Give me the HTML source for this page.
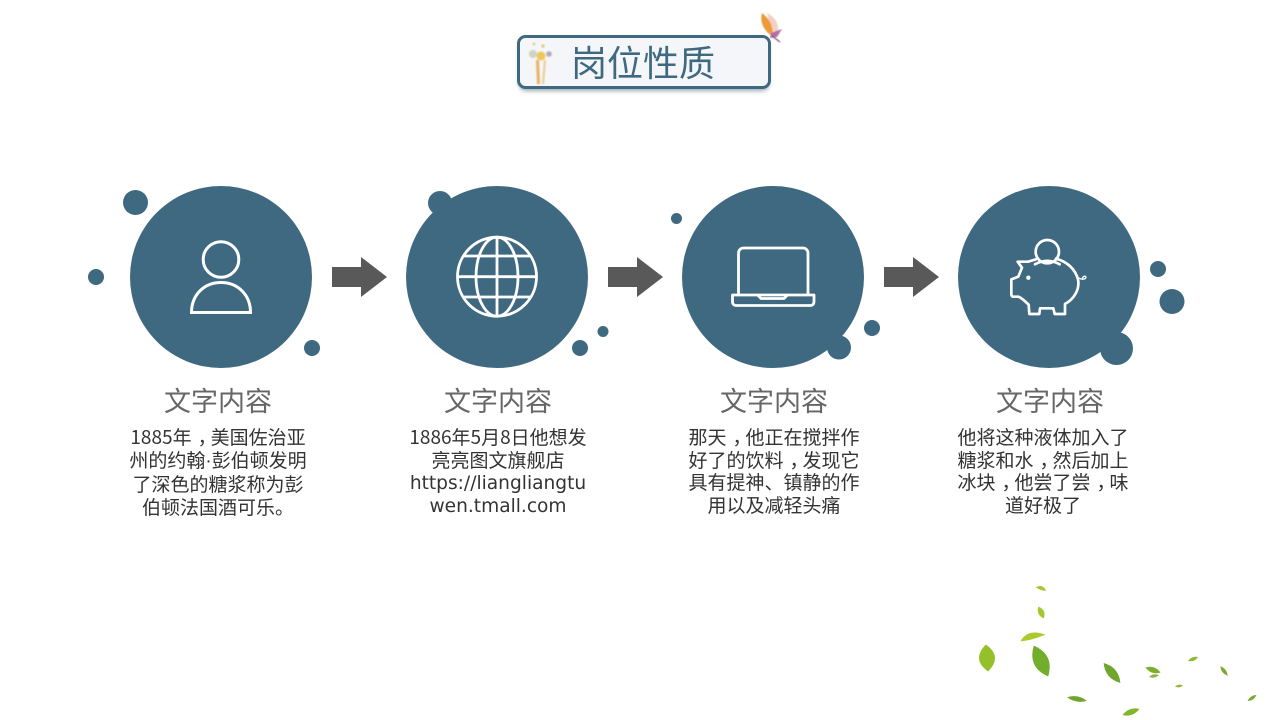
<!DOCTYPE html>
<html lang="zh">
<head>
<meta charset="utf-8">
<style>
html,body{margin:0;padding:0;background:#fff;}
#p{position:relative;width:1280px;height:720px;overflow:hidden;background:#fff;font-family:"Liberation Sans","Noto Sans CJK SC",sans-serif;}
svg{position:absolute;left:0;top:0;}
.t{position:absolute;white-space:nowrap;text-align:center;transform:translateX(-50%);}
.h{font-size:27px;line-height:36px;color:#666;font-family:"Noto Sans CJK SC",sans-serif;font-weight:400;}
.b{font-size:19px;line-height:22.5px;color:#333;font-family:"Noto Sans CJK SC",sans-serif;}
.b i{font-style:normal;position:relative;left:6px;}
.b u{text-decoration:none;font-family:"Liberation Sans",sans-serif;}
.b span{font-family:"DejaVu Sans",sans-serif;font-size:18.6px;line-height:1;}
.title{position:absolute;left:571px;top:35px;font-size:36px;line-height:52px;color:#3e6980;font-family:"Noto Sans CJK SC",sans-serif;white-space:nowrap;}
</style>
</head>
<body>
<div id="p">
<svg width="1280" height="720" viewBox="0 0 1280 720" xmlns="http://www.w3.org/2000/svg">
<defs>
<filter id="sh" x="-10%" y="-30%" width="120%" height="170%"><feGaussianBlur stdDeviation="2.2"/></filter>
<filter id="bl" x="-30%" y="-30%" width="160%" height="160%"><feGaussianBlur stdDeviation="0.8"/></filter>
<filter id="bl2" x="-30%" y="-30%" width="160%" height="160%"><feGaussianBlur stdDeviation="0.4"/></filter>
</defs>

<!-- title box -->
<rect x="519" y="40" width="250" height="51" rx="7" fill="#3e5a68" opacity=".5" filter="url(#sh)"/>
<rect x="518.500" y="36.500" width="251" height="51" rx="7" fill="#f4f6f9" stroke="#3e6980" stroke-width="3"/>

<!-- flower -->
<g filter="url(#bl)">
<path d="M537,84 L536,60 L539,60 L540,84Z" fill="#e6b060"/>
<path d="M542,84 L544,60 L546,60 L544,84Z" fill="#efc98c"/>
<circle cx="541" cy="56" r="4.500" fill="#ecc85c"/>
<circle cx="533" cy="54" r="4" fill="#cfd2c4"/>
<circle cx="549" cy="54" r="2.800" fill="#b8a6b8"/>
<circle cx="534" cy="44" r="1.300" fill="#d4cc70"/>
<circle cx="543" cy="46" r="1.500" fill="#e0c060"/>
</g>

<!-- butterfly -->
<g filter="url(#bl2)">
<path d="M767,13 C775,17 779,24 778,31 L772,35 Z" fill="#eec4b8" opacity=".8"/>
<path d="M762,13 C769,18 774,27 772,36 C766,32 759,24 762,13Z" fill="#ee9a38"/>
<path d="M771,33 L782,29 L777,37 L770,38Z" fill="#b56eaa"/>
<path d="M772,36 L780,42" stroke="#7d5468" stroke-width="1.200" fill="none"/>
</g>

<!-- main circles -->
<g fill="#3e6980">
<circle cx="221" cy="277" r="91"/>
<circle cx="497" cy="277" r="91"/>
<circle cx="773" cy="277" r="91"/>
<circle cx="1049" cy="277" r="91"/>
<circle cx="135.500" cy="202.500" r="12.500"/>
<circle cx="96" cy="277" r="8"/>
<circle cx="312" cy="348" r="8"/>
<circle cx="440" cy="203" r="12"/>
<circle cx="580" cy="348" r="8"/>
<circle cx="603" cy="331.500" r="5.500"/>
<circle cx="676.500" cy="218.500" r="5.500"/>
<circle cx="872" cy="328" r="8"/>
<circle cx="839" cy="347.500" r="12"/>
<circle cx="1158" cy="269" r="8"/>
<circle cx="1172" cy="301.500" r="12.500"/>
<circle cx="1116.500" cy="348.500" r="16.500"/>
</g>

<!-- arrows -->
<g fill="#595959">
<path d="M332,267H361V257L387,277L361,297V287H332Z"/>
<path d="M608,267H637V257L663,277L637,297V287H608Z"/>
<path d="M884,267H913V257L939,277L913,297V287H884Z"/>
</g>

<!-- person -->
<g fill="none" stroke="#fff" stroke-width="3">
<circle cx="221" cy="259.500" r="17.800"/>
<path d="M191.500,312.500 C191.500,295 204,282.500 221,282.500 C238,282.500 250.500,295 250.500,312.500 Z"/>
</g>

<!-- globe -->
<g fill="none" stroke="#fff" stroke-width="2.800">
<circle cx="497" cy="276.700" r="39.500"/>
<ellipse cx="497" cy="276.700" rx="21" ry="39.500"/>
<path d="M497,237V316M457.500,276.700H536.500M464,256H530M464,297H530"/>
</g>

<!-- laptop -->
<g fill="none" stroke="#fff" stroke-width="2.800" stroke-linejoin="round">
<path d="M738.500,295V253a5,5 0 0 1 5,-5H803a5,5 0 0 1 5,5V295"/>
<path d="M732.500,295H814V302a3.500,3.500 0 0 1 -3.500,3.500H736a3.500,3.500 0 0 1 -3.500,-3.500Z"/>
<path d="M758,295.500L761,298.500H784L787,295.500"/>
</g>

<!-- piggy -->
<g transform="translate(950,180) scale(0.3333)" fill="none" stroke="#fff" stroke-width="8" stroke-linejoin="round" stroke-linecap="round">
<circle cx="292" cy="215" r="35"/>
<path d="M255,253 Q292,232 329,253"/>
<path d="M318,236 C352,245 376,268 384,298 C390,328 372,358 345,372 L345,402 L314,402 L310,385 L270,385 L268,402 L238,402 L236,374 C225,364 216,354 205,350 L190,350 Q184,350 184,342 L184,298 L205,290 L216,263 L203,245 L235,245 L258,238"/>
<path d="M386,294 C396,300 408,298 408,291 C404,286 396,290 398,298" stroke-width="4"/>
<circle cx="235" cy="293" r="6.500" fill="#fff" stroke="none"/>
</g>

<!-- leaves -->
<g style="filter:blur(0.3px)">
<path transform="translate(1041,589) rotate(20) scale(5.500,3)" d="M-1,0Q0,-2 1,0Q0,.7 -1,0Z" fill="#a8c83a"/>
<path transform="translate(1041,612.500) rotate(65) scale(6.500,4)" d="M-1,0Q0,-1.600 1,0Q0,1.400 -1,0Z" fill="#a4c832"/>
<path transform="translate(1033,638) rotate(-15) scale(13,5)" d="M-1,0Q-.2,-2.200 1,0Q-.2,.4 -1,0Z" fill="#aacb2c"/>
<path transform="translate(987,658) rotate(85) scale(13.500,8)" d="M-1,0Q0,-2 1,0Q0,2 -1,0Z" fill="#94c12a"/>
<path transform="translate(1041,661) rotate(65) scale(17,7.500)" d="M-1,0Q0,-2 1,0Q0,2 -1,0Z" fill="#72ad2c"/>
<path transform="translate(1112,673) rotate(50) scale(13,4.500)" d="M-1,0Q0,-2 1,0Q0,2 -1,0Z" fill="#6ea72c"/>
<path transform="translate(1153,670) rotate(18) scale(8,2.800)" d="M-1,0Q0,-2 1,0Q0,2 -1,0Z" fill="#7eae30"/>
<path transform="translate(1154,676) rotate(-10) scale(5,1.600)" d="M-1,0Q0,-2 1,0Q0,2 -1,0Z" fill="#8cb63a"/>
<path transform="translate(1193,659) rotate(-22) scale(5.500,1.800)" d="M-1,0Q0,-2 1,0Q0,2 -1,0Z" fill="#8db83a"/>
<path transform="translate(1179,686) rotate(-8) scale(4,1.300)" d="M-1,0Q0,-2 1,0Q0,2 -1,0Z" fill="#8db83a"/>
<path transform="translate(1224,671) rotate(52) scale(6,1.900)" d="M-1,0Q0,-2 1,0Q0,2 -1,0Z" fill="#7cab34"/>
<path transform="translate(1252,698) rotate(-35) scale(5.500,1.700)" d="M-1,0Q0,-2 1,0Q0,2 -1,0Z" fill="#7cab34"/>
<path transform="translate(1077,699) rotate(10) scale(10,2.600)" d="M-1,0Q0,-2 1,0Q0,2 -1,0Z" fill="#6ea72c"/>
<path transform="translate(1131,712) rotate(-20) scale(9,2.900)" d="M-1,0Q0,-2 1,0Q0,2 -1,0Z" fill="#7fb52f"/>
</g>
</svg>

<div class="title">岗位性质</div>

<div class="t h" style="left:218px;top:382px;">文字内容</div>
<div class="t h" style="left:498px;top:382px;">文字内容</div>
<div class="t h" style="left:774px;top:382px;">文字内容</div>
<div class="t h" style="left:1050px;top:382px;">文字内容</div>

<div class="t b" style="left:218px;top:426px;">1885年<i>，</i>美国佐治亚<br>州的约翰<u>·</u>彭伯顿发明<br>了深色的糖浆称为彭<br>伯顿法国酒可乐。</div>
<div class="t b" style="left:498px;top:426px;">1886年5月8日他想发<br>亮亮图文旗舰店<br><span>https://liangliangtu</span><br><span>wen.tmall.com</span></div>
<div class="t b" style="left:774px;top:426px;">那天<i>，</i>他正在搅拌作<br>好了的饮料<i>，</i>发现它<br>具有提神、镇静的作<br>用以及减轻头痛</div>
<div class="t b" style="left:1043px;top:426px;">他将这种液体加入了<br>糖浆和水<i>，</i>然后加上<br>冰块<i>，</i>他尝了尝<i>，</i>味<br>道好极了</div>
</div>
</body>
</html>
